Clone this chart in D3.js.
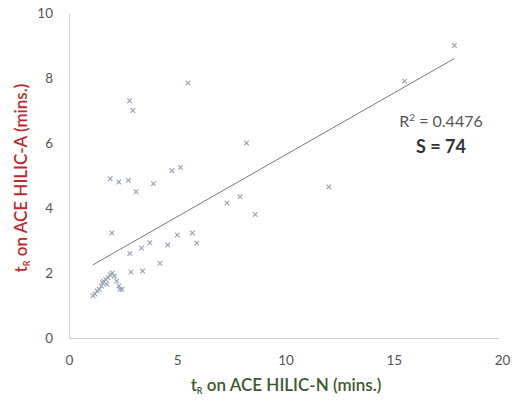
<!DOCTYPE html>
<html>
<head>
<meta charset="utf-8">
<script src="https://cdn.jsdelivr.net/npm/d3@7"></script>
<style>
  body { margin: 0; background: #fff; }
  svg text { font-family: Lato, "Open Sans", sans-serif; }
</style>
</head>
<body>
<div id="chart"></div>
<script>
// retention times (mins.): x = ACE HILIC-N, y = ACE HILIC-A
var hilicN = [17.8, 15.5, 5.5, 2.8, 2.95, 8.2, 1.9, 2.3, 2.75, 3.1, 3.9, 4.75, 5.15,
  7.3, 7.9, 8.6, 12.0, 1.98, 2.81, 3.35, 3.73, 4.56, 5.0, 5.7, 5.9, 4.2, 3.4, 2.86,
  1.1, 1.2, 1.3, 1.4, 1.5, 1.55, 1.6, 1.7, 1.8, 1.9, 2.0, 2.1, 2.2, 2.3, 2.35, 1.75, 2.45];
var hilicA = [9.0, 7.9, 7.85, 7.3, 7.0, 6.0, 4.9, 4.8, 4.85, 4.5, 4.75, 5.15, 5.25,
  4.15, 4.35, 3.8, 4.65, 3.23, 2.6, 2.77, 2.93, 2.86, 3.17, 3.23, 2.92, 2.3, 2.06, 2.03,
  1.3, 1.35, 1.45, 1.5, 1.6, 1.7, 1.75, 1.8, 1.85, 1.95, 2.0, 1.9, 1.75, 1.6, 1.5, 1.65, 1.5];
// linear trendline end points
var trendX = [1.1, 17.8];
var trendY = [2.25, 8.6];
var xTicks = [0, 5, 10, 15, 20];
var yTicks = [0, 2, 4, 6, 8, 10];
var r2Label = "0.4476";
var sLabel = "S = 74";

var width = 512, height = 405;
var svg = d3.select('#chart').append('svg')
  .attr('width', width).attr('height', height);

var x = d3.scaleLinear().domain([0, 20]).range([69, 502]);
var y = d3.scaleLinear().domain([0, 10]).range([338, 13]);

// axes, no tick marks, light lines
var xAxis = svg.append('g')
  .attr('transform', 'translate(0,338)')
  .call(d3.axisBottom(x).tickValues(xTicks).tickSize(0).tickPadding(17));
xAxis.select('.domain').attr('stroke', '#d0d0d0').attr('d', 'M69,0.5H499');
xAxis.selectAll('text').attr('fill', '#555').attr('font-size', 13.5);

var yAxis = svg.append('g')
  .attr('transform', 'translate(69,0)')
  .call(d3.axisLeft(y).tickValues(yTicks).tickSize(0).tickPadding(16));
yAxis.select('.domain').attr('stroke', '#d0d0d0');
yAxis.selectAll('text').attr('fill', '#555').attr('font-size', 13.5);

// trendline
var pts = d3.zip(trendX, trendY);
svg.append('path')
  .attr('d', d3.line().x(function(d) { return x(d[0]); }).y(function(d) { return y(d[1]); })(pts))
  .attr('fill', 'none').attr('stroke', '#777').attr('stroke-width', 1);

// cross markers
var data = d3.zip(hilicN, hilicA);
svg.append('g').selectAll('path.pt').data(data).enter().append('path')
  .attr('class', 'pt')
  .attr('d', function(d) {
    var cx = x(d[0]), cy = y(d[1]), r = 2.3;
    return 'M' + (cx - r) + ',' + (cy - r) + 'L' + (cx + r) + ',' + (cy + r) +
      'M' + (cx - r) + ',' + (cy + r) + 'L' + (cx + r) + ',' + (cy - r);
  })
  .attr('stroke', '#95a0b3').attr('stroke-width', 1.1).attr('fill', 'none');

// annotations
var r2 = svg.append('text').attr('x', 441).attr('y', 127)
  .attr('text-anchor', 'middle').attr('font-size', 16).attr('fill', '#555');
r2.append('tspan').text('R');
r2.append('tspan').attr('dy', -6).attr('font-size', 10).text('2');
r2.append('tspan').attr('dy', 6).text(' = ' + r2Label);

svg.append('text').attr('x', 441).attr('y', 153)
  .attr('text-anchor', 'middle').attr('font-size', 18).attr('font-weight', 'bold')
  .attr('fill', '#333').text(sLabel);

// axis titles
var xt = svg.append('text').attr('x', 286).attr('y', 391)
  .attr('text-anchor', 'middle').attr('font-size', 17).attr('font-weight', 600).attr('fill', '#3d5a2c');
xt.append('tspan').text('t');
xt.append('tspan').attr('dy', 3).attr('font-size', 9).text('R');
xt.append('tspan').attr('dy', -3).text(' on ACE HILIC-N (mins.)');

var yt = svg.append('text').attr('transform', 'translate(27,178) rotate(-90)')
  .attr('text-anchor', 'middle').attr('font-size', 17).attr('font-weight', 600).attr('fill', '#c0282d');
yt.append('tspan').text('t');
yt.append('tspan').attr('dy', 3).attr('font-size', 9).text('R');
yt.append('tspan').attr('dy', -3).text(' on ACE HILIC-A (mins.)');
</script>
</body>
</html>
